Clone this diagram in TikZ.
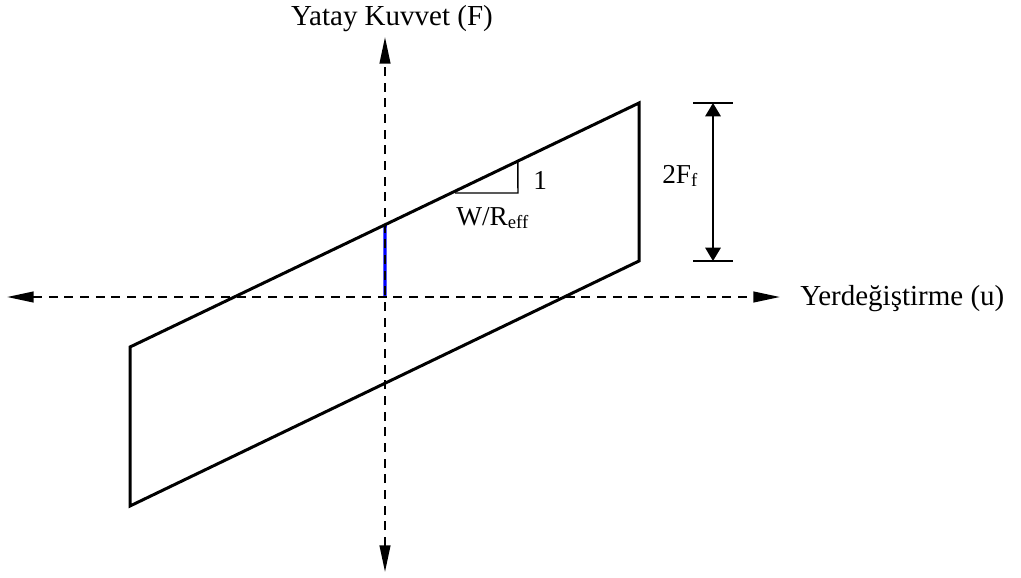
\documentclass[tikz,border=0pt]{standalone}
\usepackage{fontspec}
\setmainfont{Liberation Serif}
\usetikzlibrary{arrows.meta,calc}
\newcommand{\mysub}[1]{\raisebox{-0.28ex}{\fontsize{14}{14}\selectfont #1}}
\begin{document}
\begin{tikzpicture}[x=0.75pt,y=-0.75pt,
  axis/.style={line width=1.6pt, dash pattern=on 6.75pt off 5pt,
    {Triangle[length=20pt,width=8pt]}-{Triangle[length=20pt,width=8pt]}},
  loopline/.style={line width=2.25pt, line join=miter},
  dimarrow/.style={line width=1.6pt,
    {Triangle[length=10pt,width=11.5pt]}-{Triangle[length=10pt,width=11.5pt]}},
  thinline/.style={line width=1.1pt},
  lbl/.style={inner sep=0pt, font=\fontsize{20.5}{24}\selectfont},
  biglbl/.style={inner sep=0pt, font=\fontsize{21.75}{26}\selectfont}]
\useasboundingbox (0,0) rectangle (1021,578);
% axes
\coordinate (xl) at (7,297);
\coordinate (xr) at (780,297);
\coordinate (yt) at (385,37);
\coordinate (yb) at (385,572);
\coordinate (o) at (385,297);
% loop corners
\coordinate (p1) at (130,506);
\coordinate (p2) at (130,347);
\coordinate (p3) at (639,103);
\coordinate (p4) at (639,261);
\coordinate (q) at ($(p2)!0.501!(p3)$);
% blue segment
\draw[blue, line width=2.6pt] (q) -- (o);
\draw[axis] (xl) -- (xr);
\draw[axis] (yb) -- (yt);
% hysteresis loop
\draw[loopline] (p1) -- (p2) -- (p3) -- (p4) -- cycle;
% slope triangle
\coordinate (t1) at (455,193);
\coordinate (t2) at (518,193);
\coordinate (t3) at ($(p2)!0.762!(p3)$);
\draw[thinline] (t1) -- (t2) -- (t3);
% dimension 2Ff
\coordinate (d1l) at (693,103);
\coordinate (d1r) at (733,103);
\coordinate (d2l) at (693,261);
\coordinate (d2r) at (733,261);
\coordinate (da) at (713,103);
\coordinate (db) at (713,261);
\draw[thinline] (d1l) -- (d1r);
\draw[thinline] (d2l) -- (d2r);
\draw[dimarrow] (da) -- (db);
% labels
\node[biglbl, anchor=base] (ylab) at (392,26) {Yatay Kuvvet (F)};
\node[biglbl, anchor=base west] (xlab) at (800,305) {Yerdeğiştirme (u)};
\node[lbl, anchor=base west] (ff) at (662,183) {2F\mysub{f}};
\node[lbl, anchor=base west] (one) at (533,189) {1};
\node[lbl, anchor=base west] (wr) at (456,225) {W/R\mysub{eff}};
\end{tikzpicture}
\end{document}
